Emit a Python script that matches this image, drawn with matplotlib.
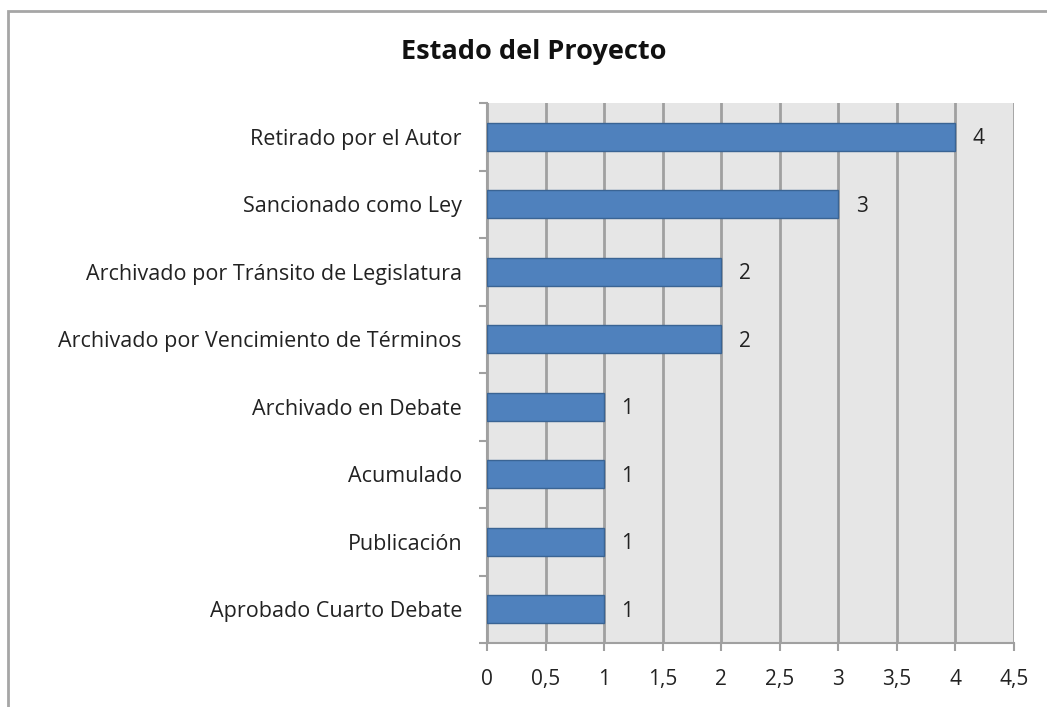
import matplotlib.pyplot as plt
from matplotlib.patches import Rectangle

categorias = ["Aprobado Cuarto Debate", "Publicación", "Acumulado", "Archivado en Debate",
              "Archivado por Vencimiento de Términos", "Archivado por Tránsito de Legislatura",
              "Sancionado como Ley", "Retirado por el Autor"]
valores = [1, 1, 1, 1, 2, 2, 3, 4]
xticks = [0, 0.5, 1, 1.5, 2, 2.5, 3, 3.5, 4, 4.5]
xtick_labels = ["0", "0,5", "1", "1,5", "2", "2,5", "3", "3,5", "4", "4,5"]

plt.rcParams['font.family'] = ['Open Sans', 'DejaVu Sans']

fig = plt.figure(figsize=(10.47, 7.07), dpi=100)
fig.patches.append(Rectangle((8 / 1047, -0.05), 1.1, 1.05 - 11 / 707,
                             transform=fig.transFigure, fill=False,
                             edgecolor='#A6A6A6', linewidth=2))

ax = fig.add_axes([487 / 1047, 64 / 707, 527 / 1047, 540 / 707])
ax.set_facecolor('#E6E6E6')

y = range(len(categorias))
ax.barh(y, valores, height=0.41, color='#4F81BD', edgecolor='#3A6494', linewidth=1, zorder=3)
for i, v in enumerate(valores):
    ax.text(v + 0.2, i - 0.03, str(v), va='center', ha='center', fontsize=15, color='#222222', zorder=4)

ax.set_xlim(0, 4.5)
ax.set_ylim(-0.5, len(categorias) - 0.5)
ax.set_xticks(xticks)
ax.set_xticklabels(xtick_labels, fontsize=15, color='#222222')
ax.set_yticks([i - 0.5 for i in range(len(categorias) + 1)])
ax.set_yticklabels([])
ax.set_yticks(list(y), minor=True)
ax.set_yticklabels(categorias, minor=True, fontsize=15.5, color='#222222')
ax.tick_params(axis='y', which='minor', length=0, pad=18)
ax.tick_params(axis='y', which='major', length=6, color='#A0A0A0', width=1.5)
ax.tick_params(axis='x', length=6, color='#A0A0A0', width=1.5, pad=13)

ax.grid(axis='x', color='#A0A0A0', linewidth=2, zorder=1)
ax.set_axisbelow(True)
for s in ['top', 'right']:
    ax.spines[s].set_visible(False)
for s in ['left', 'bottom']:
    ax.spines[s].set_color('#A0A0A0')
    ax.spines[s].set_linewidth(1.5)

fig.text(534 / 1047, 1 - 52 / 707, "Estado del Proyecto", ha='center', va='center',
         fontsize=19.5, fontweight='bold', color='#111111')

fig.savefig('out.png', dpi=100)
